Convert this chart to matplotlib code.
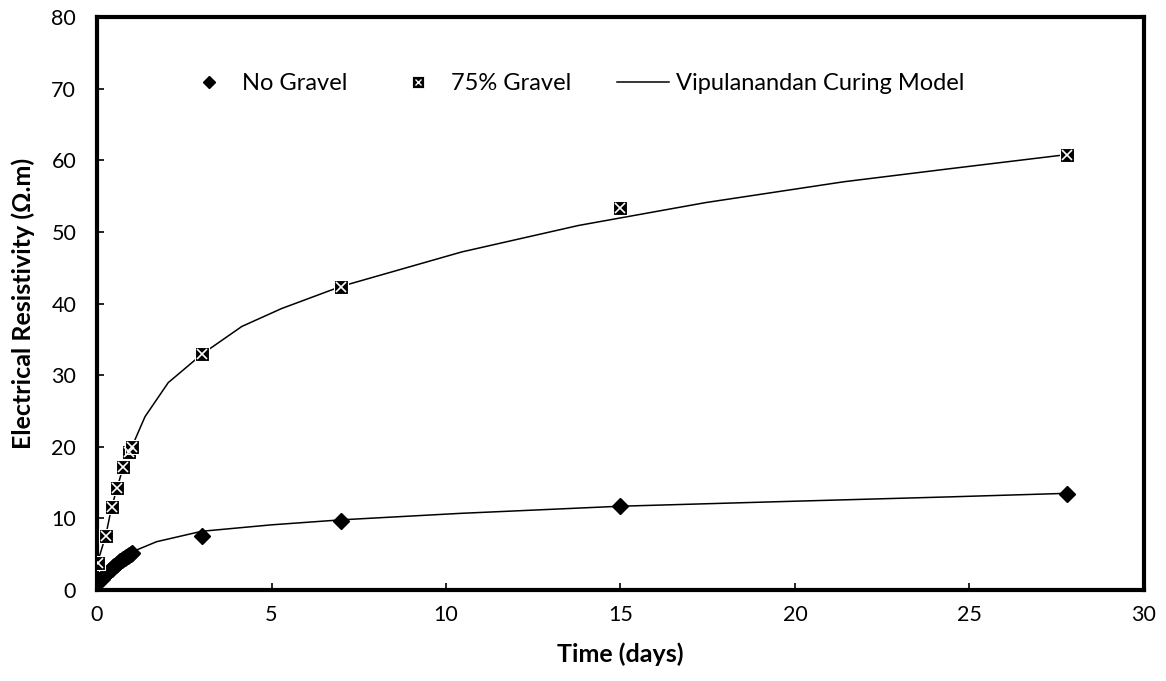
import matplotlib.pyplot as plt
from matplotlib.lines import Line2D
from matplotlib.legend_handler import HandlerTuple

plt.rcParams['font.family'] = ['Lato', 'DejaVu Sans']

# measured data - no gravel (days, ohm.m)
t_no = [0.0, 0.04, 0.08, 0.13, 0.17, 0.21, 0.25, 0.29, 0.33, 0.38, 0.42, 0.46,
        0.5, 0.54, 0.58, 0.63, 0.67, 0.71, 0.75, 0.79, 0.83, 0.88, 0.92, 0.96,
        1.0, 3.0, 7.0, 15.0, 27.8]
r_no = [1.0, 1.2, 1.4, 1.6, 1.8, 2.0, 2.2, 2.4, 2.6, 2.8, 3.0, 3.2,
        3.4, 3.55, 3.7, 3.85, 4.0, 4.15, 4.3, 4.45, 4.6, 4.75, 4.9, 5.0,
        5.1, 7.6, 9.6, 11.8, 13.4]

# measured data - 75% gravel
t_gr = [0.04, 0.25, 0.42, 0.58, 0.75, 0.92, 1.0, 3.0, 7.0, 15.0, 27.8]
r_gr = [3.8, 7.6, 11.6, 14.3, 17.2, 19.3, 20.0, 32.9, 42.3, 53.3, 60.8]

# Vipulanandan curing model curves
t_mod_no = [0.0, 0.25, 0.5, 0.75, 1.0, 1.14, 1.71, 3.0, 5.0, 7.0, 10.4, 15.0, 20.0, 24.4, 27.8]
r_mod_no = [1.0, 2.2, 3.4, 4.3, 5.1, 5.6, 6.75, 8.2, 9.1, 9.8, 10.7, 11.7, 12.4, 13.0, 13.5]

t_mod_gr = [0.0, 0.25, 0.42, 0.58, 0.75, 0.92, 1.0, 1.375, 2.04, 3.0, 4.15, 5.29, 7.0,
            10.45, 13.8, 17.45, 21.4, 24.4, 27.8]
r_mod_gr = [3.6, 7.6, 11.6, 14.3, 17.2, 19.3, 20.0, 24.2, 28.95, 32.9, 36.8, 39.3, 42.4,
            47.2, 50.9, 54.1, 57.0, 58.8, 60.8]

fig = plt.figure(figsize=(11.66, 6.81), dpi=100)
ax = fig.add_axes([0.0832, 0.1336, 0.8979, 0.8414])

ax.plot(t_mod_no, r_mod_no, color='black', lw=1.1, zorder=2)
ax.plot(t_mod_gr, r_mod_gr, color='black', lw=1.1, zorder=2)

ax.plot(t_no, r_no, linestyle='none', marker='D', ms=8, color='black', zorder=3)
ax.plot(t_gr, r_gr, linestyle='none', marker='s', ms=10, mfc='black', mec='white',
        mew=0.8, zorder=3)
ax.plot(t_gr, r_gr, linestyle='none', marker='x', ms=7, mec='white', mew=1.2, zorder=4)

ax.set_xlim(0, 30)
ax.set_ylim(0, 80)
ax.set_xticks(range(0, 31, 5))
ax.set_yticks(range(0, 81, 10))
ax.tick_params(direction='in', length=5, width=1.2, labelsize=15.5)
ax.tick_params(axis='x', pad=11)
ax.tick_params(axis='y', pad=15)

for sp in ax.spines.values():
    sp.set_linewidth(3)

ax.set_xlabel('Time (days)', fontsize=18, fontweight='bold', labelpad=12)
ax.set_ylabel('Electrical Resistivity (Ω.m)', fontsize=18, fontweight='bold', labelpad=12)

h_no = Line2D([], [], linestyle='none', marker='D', ms=6, color='black')
h_sq = Line2D([], [], linestyle='none', marker='s', ms=8, mfc='black', mec='white', mew=0.6)
h_x = Line2D([], [], linestyle='none', marker='x', ms=5, mec='white', mew=1.0)
h_line = Line2D([], [], color='black', lw=1.1)
ax.legend([h_no, (h_sq, h_x), h_line],
          ['No Gravel', '75% Gravel', 'Vipulanandan Curing Model'],
          handler_map={tuple: HandlerTuple(ndivide=1)},
          ncol=3, frameon=False, fontsize=17, loc='center left',
          bbox_to_anchor=(0.062, 0.884), columnspacing=1.9, handlelength=2.2,
          handletextpad=0.3)

fig.savefig('out.png', dpi=100)
